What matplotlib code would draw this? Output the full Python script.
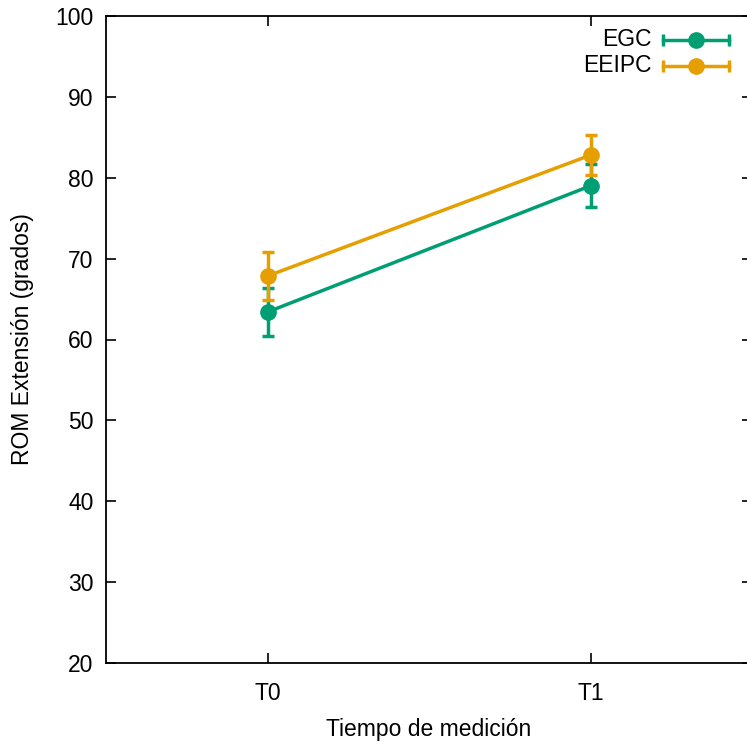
import matplotlib
matplotlib.use("Agg")
import matplotlib.pyplot as plt

categories = ["T0", "T1"]
egc_mean = [63.4, 79.0]
egc_err = [3.0, 2.65]
eeipc_mean = [67.85, 82.8]
eeipc_err = [3.0, 2.5]
series_names = ["EGC", "EEIPC"]
colors = ["#009e73", "#e69f00"]
yticks = [20, 30, 40, 50, 60, 70, 80, 90, 100]

FS = 16.5
plt.rcParams['font.family'] = ['Liberation Sans', 'DejaVu Sans']
fig = plt.figure(figsize=(7.47, 7.45), dpi=100)
ax = fig.add_axes([106/747, 1-663/745, 646/747, 647/745])

xs = list(range(len(categories)))
for means, errs, c in [(egc_mean, egc_err, colors[0]), (eeipc_mean, eeipc_err, colors[1])]:
    ax.errorbar(xs, means, yerr=errs, color=c, lw=2.5, marker='o', ms=11,
                capsize=4.5, capthick=2.5, elinewidth=2.5)

ax.set_xlim(-0.5, 1.5)
ax.set_ylim(20, 100)
ax.set_xticks(xs)
ax.set_xticklabels(categories)
ax.set_yticks(yticks)
ax.tick_params(direction='in', length=7, width=1.2, top=True, right=True,
               labelsize=FS, colors='black')
ax.tick_params(axis='x', pad=14)
ax.tick_params(axis='y', pad=9)
for s in ax.spines.values():
    s.set_linewidth(1.3)

ax.set_xlabel("Tiempo de medición", fontsize=FS, labelpad=9)
ax.set_ylabel("ROM Extensión (grados)", fontsize=FS, labelpad=15)

# gnuplot-style legend
x0, x1, xm = 0.862, 0.964, 0.913
for yy, name, c in [(0.963, series_names[0], colors[0]), (0.923, series_names[1], colors[1])]:
    ax.plot([x0, x1], [yy, yy], transform=ax.transAxes, color=c, lw=2.5, clip_on=False)
    ax.plot([x0, x1], [yy, yy], transform=ax.transAxes, color=c, ls='none',
            marker='|', ms=9, mew=2.5, clip_on=False)
    ax.plot([xm], [yy], transform=ax.transAxes, color=c, marker='o', ms=11, clip_on=False)
    ax.text(0.844, yy, name, transform=ax.transAxes, ha='right', va='center', fontsize=FS)

fig.savefig("out.png", dpi=100)
